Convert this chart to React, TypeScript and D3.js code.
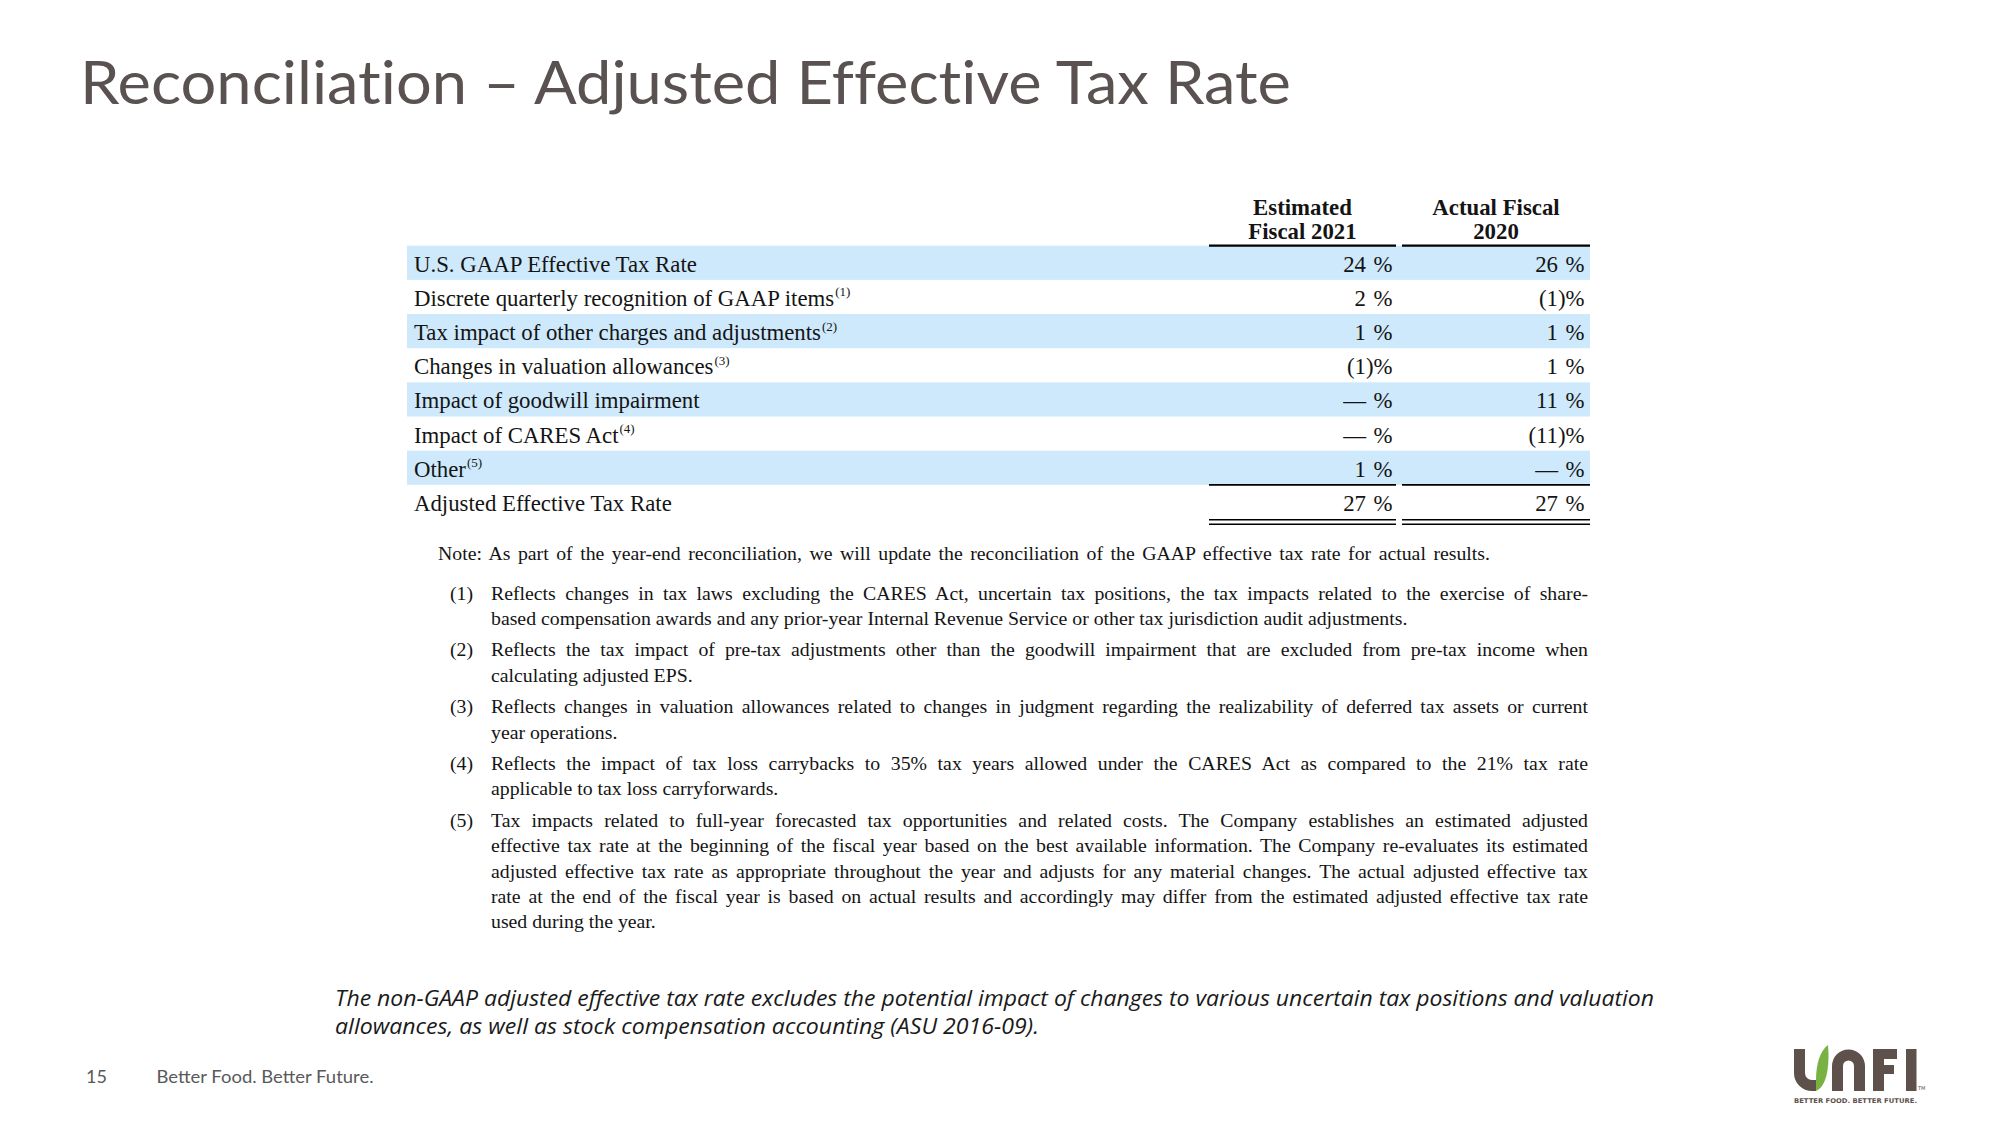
import React, { useEffect, useRef } from "react";
import * as d3 from "d3";

// ---------------- data ----------------
const titleText = "Reconciliation – Adjusted Effective Tax Rate";
const columnHeaders: string[][] = [
  ["Estimated", "Fiscal 2021"],
  ["Actual Fiscal", "2020"],
];
const categories = [
  "U.S. GAAP Effective Tax Rate",
  "Discrete quarterly recognition of GAAP items",
  "Tax impact of other charges and adjustments",
  "Changes in valuation allowances",
  "Impact of goodwill impairment",
  "Impact of CARES Act",
  "Other",
  "Adjusted Effective Tax Rate",
];
const footnoteRefs = ["", "(1)", "(2)", "(3)", "", "(4)", "(5)", ""];
const estimatedFiscal2021 = [24, 2, 1, -1, 0, 0, 1, 27];
const actualFiscal2020 = [26, -1, 1, 1, 11, -11, 0, 27];

const noteText =
  "Note: As part of the year-end reconciliation, we will update the reconciliation of the GAAP effective tax rate for actual results.";
const footnoteLabels = ["(1)", "(2)", "(3)", "(4)", "(5)"];
const footnoteLines: string[][] = [
  [
    "Reflects changes in tax laws excluding the CARES Act, uncertain tax positions, the tax impacts related to the exercise of share-",
    "based compensation awards and any prior-year Internal Revenue Service or other tax jurisdiction audit adjustments.",
  ],
  [
    "Reflects the tax impact of pre-tax adjustments other than the goodwill impairment that are excluded from pre-tax income when",
    "calculating adjusted EPS.",
  ],
  [
    "Reflects changes in valuation allowances related to changes in judgment regarding the realizability of deferred tax assets or current",
    "year operations.",
  ],
  [
    "Reflects the impact of tax loss carrybacks to 35% tax years allowed under the CARES Act as compared to the 21% tax rate",
    "applicable to tax loss carryforwards.",
  ],
  [
    "Tax impacts related to full-year forecasted tax opportunities and related costs. The Company establishes an estimated adjusted",
    "effective tax rate at the beginning of the fiscal year based on the best available information. The Company re-evaluates its estimated",
    "adjusted effective tax rate as appropriate throughout the year and adjusts for any material changes. The actual adjusted effective tax",
    "rate at the end of the fiscal year is based on actual results and accordingly may differ from the estimated adjusted effective tax rate",
    "used during the year.",
  ],
];
const bottomNoteLines = [
  "The non-GAAP adjusted effective tax rate excludes the potential impact of changes to various uncertain tax positions and valuation",
  "allowances, as well as stock compensation accounting (ASU 2016-09).",
];
const pageNumber = "15";
const footerTagline = "Better Food. Better Future.";
const logoTagline = "BETTER FOOD. BETTER FUTURE.";

// ---------------- layout ----------------
const W = 2000;
const H = 1125;
const SERIF = "'Liberation Serif', 'Times New Roman', serif";
const TITLE_COLOR = "#5a5151";
const BLUE = "#cde9fb";
const INK = "#141414";

const tableLeft = 407;
const tableRight = 1590;
const labelX = 414;
const seriesValues = [estimatedFiscal2021, actualFiscal2020];
const colNumRight = [1366, 1558];
const colRule: [number, number][] = [
  [1209, 1396],
  [1402, 1590],
];

const rowY = d3
  .scaleBand<number>()
  .domain(d3.range(categories.length))
  .range([245.7, 519])
  .paddingInner(0);

const noteX = 438;
const noteRight = 1490;
const fnNumX = 450;
const fnTextX = 491;
const fnRight = 1588;
const lineH = 25.2;
const paraExtra = 6.5;

function numPart(v: number) {
  if (v === 0) return "—";
  if (v < 0) return `(${-v}`;
  return `${v}`;
}

export default function App() {
  const notesRef = useRef<SVGGElement>(null);

  useEffect(() => {
    const justify = () => {
      if (!notesRef.current) return;
      d3.select(notesRef.current)
        .selectAll<SVGTextElement, unknown>("text.just")
        .each(function () {
          const el = this;
          el.style.wordSpacing = "0px";
          const natural = el.getComputedTextLength();
          const target = +(el.getAttribute("data-target") || 0);
          const spaces = ((el.textContent || "").match(/ /g) || []).length;
          if (spaces > 0) el.style.wordSpacing = `${(target - natural) / spaces}px`;
        });
    };
    justify();
    if ((document as any).fonts && (document as any).fonts.ready) {
      (document as any).fonts.ready.then(justify);
    }
  }, []);

  // footnote line baselines
  const fnBaselines: number[][] = [];
  let y0 = 599.5;
  footnoteLines.forEach((lines) => {
    fnBaselines.push(lines.map((_, i) => y0 + i * lineH));
    y0 += lines.length * lineH + paraExtra;
  });

  const bw = rowY.bandwidth();
  const lastRow = categories.length - 1;

  return (
    <svg
      width={W}
      height={H}
      viewBox={`0 0 ${W} ${H}`}
      style={{ position: "fixed", left: 0, top: 0, background: "#fff" }}
    >
      <rect x={0} y={0} width={W} height={H} fill="#fff" />

      {/* Title */}
      <text
        x={80}
        y={104}
        fontFamily="Lato, 'Open Sans', sans-serif"
        fontSize={60.5}
        fill={TITLE_COLOR}
        textLength={1211}
        lengthAdjust="spacingAndGlyphs"
        style={{ fontVariantLigatures: "none", fontFeatureSettings: "'liga' 0, 'clig' 0" }}
      >
        {titleText}
      </text>

      {/* Table shading */}
      <g>
        {categories.map((_, i) =>
          i % 2 === 0 && i < lastRow ? (
            <rect
              key={i}
              x={tableLeft}
              y={rowY(i)!}
              width={tableRight - tableLeft}
              height={bw}
              fill={BLUE}
            />
          ) : null
        )}
      </g>

      {/* Column headers */}
      <g fontFamily={SERIF} fontWeight="bold" fontSize={22.8} fill={INK} textAnchor="middle">
        {columnHeaders.map((lines, c) => {
          const cx = (colRule[c][0] + colRule[c][1]) / 2;
          return lines.map((t, j) => (
            <text key={`${c}-${j}`} x={cx} y={215 + j * 23.5}>
              {t}
            </text>
          ));
        })}
      </g>

      {/* Rules */}
      <g stroke="#000">
        {colRule.map(([a, b], c) => (
          <g key={c}>
            <line x1={a} x2={b} y1={245.6} y2={245.6} strokeWidth={2.2} />
            <line x1={a} x2={b} y1={rowY(lastRow)!} y2={rowY(lastRow)!} strokeWidth={1.8} />
            <line x1={a} x2={b} y1={519.8} y2={519.8} strokeWidth={1.6} />
            <line x1={a} x2={b} y1={524.2} y2={524.2} strokeWidth={1.6} />
          </g>
        ))}
      </g>

      {/* Row labels */}
      <g fontFamily={SERIF} fontSize={22.8} fill={INK}>
        {categories.map((c, i) => (
          <text key={i} x={labelX} y={rowY(i)! + 26}>
            <tspan>{c}</tspan>
            {footnoteRefs[i] ? (
              <tspan fontSize={13} dy={-9.5} dx={1}>
                {footnoteRefs[i]}
              </tspan>
            ) : null}
          </text>
        ))}
      </g>

      {/* Values */}
      <g fontFamily={SERIF} fontSize={22.8} fill={INK}>
        {seriesValues.map((vals, c) =>
          vals.map((v, i) => {
            const y = rowY(i)! + 26;
            const xr = colNumRight[c];
            return (
              <g key={`${c}-${i}`}>
                <text x={xr} y={y} textAnchor="end">
                  {numPart(v)}
                </text>
                {v < 0 ? (
                  <text x={xr} y={y}>
                    )
                  </text>
                ) : null}
                <text x={xr + 26.5} y={y} textAnchor="end">
                  %
                </text>
              </g>
            );
          })
        )}
      </g>

      {/* Notes */}
      <g ref={notesRef} fontFamily={SERIF} fontSize={19.8} fill={INK}>
        <text
          className="just"
          data-target={noteRight - noteX}
          x={noteX}
          y={560}
          style={{ whiteSpace: "pre" }}
        >
          {noteText}
        </text>
        {footnoteLines.map((lines, p) => (
          <g key={p}>
            <text x={fnNumX} y={fnBaselines[p][0]}>
              {footnoteLabels[p]}
            </text>
            {lines.map((ln, j) => {
              const last = j === lines.length - 1;
              return (
                <text
                  key={j}
                  className={last ? undefined : "just"}
                  data-target={fnRight - fnTextX}
                  x={fnTextX}
                  y={fnBaselines[p][j]}
                  style={{ whiteSpace: "pre" }}
                >
                  {ln}
                </text>
              );
            })}
          </g>
        ))}
      </g>

      {/* Bottom italic note */}
      <g fontFamily="'Open Sans', Lato, sans-serif" fontStyle="italic" fontSize={22.5} fill="#1a1a1a">
        <text x={335} y={1005.5} textLength={1319} lengthAdjust="spacingAndGlyphs">
          {bottomNoteLines[0]}
        </text>
        <text x={335} y={1034} textLength={704} lengthAdjust="spacingAndGlyphs">
          {bottomNoteLines[1]}
        </text>
      </g>

      {/* Footer */}
      <g fontFamily="Lato, 'Open Sans', sans-serif" fontSize={18} fill="#595959">
        <text x={86} y={1083}>
          {pageNumber}
        </text>
        <text x={156.5} y={1083} textLength={217} lengthAdjust="spacingAndGlyphs">
          {footerTagline}
        </text>
      </g>

      {/* UNFI logo */}
      <g>
        <path
          d="M1794 1049 H1805 V1073 A7 7 0 0 0 1812 1080 H1816 V1091 H1812 A18 18 0 0 1 1794 1073 Z"
          fill="#5e504b"
        />
        <path
          d="M1816 1091 C1826 1087 1830 1068 1828 1045 C1820 1051 1816 1064 1816 1080 Z"
          fill="#78b243"
        />
        <path
          d="M1832 1091 V1066 A16.5 16.5 0 0 1 1865 1066 V1091 H1854 V1066 A5.5 5.5 0 0 0 1843 1066 V1091 Z"
          fill="#5e504b"
        />
        <path
          d="M1873 1049 H1897 V1059 H1884 V1065 H1894 V1074 H1884 V1091 H1873 Z"
          fill="#5e504b"
        />
        <rect x={1906} y={1049} width={10.5} height={42} fill="#5e504b" />
        <text x={1918} y={1090} fontSize={5} fontFamily="'DejaVu Sans', sans-serif" fill="#5e504b">
          TM
        </text>
        <text
          x={1794}
          y={1102.5}
          fontFamily="'DejaVu Sans Condensed', 'DejaVu Sans', sans-serif"
          fontWeight="bold"
          fontSize={6.5}
          fill="#5e504b"
          textLength={123}
          lengthAdjust="spacingAndGlyphs"
        >
          {logoTagline}
        </text>
      </g>
    </svg>
  );
}
